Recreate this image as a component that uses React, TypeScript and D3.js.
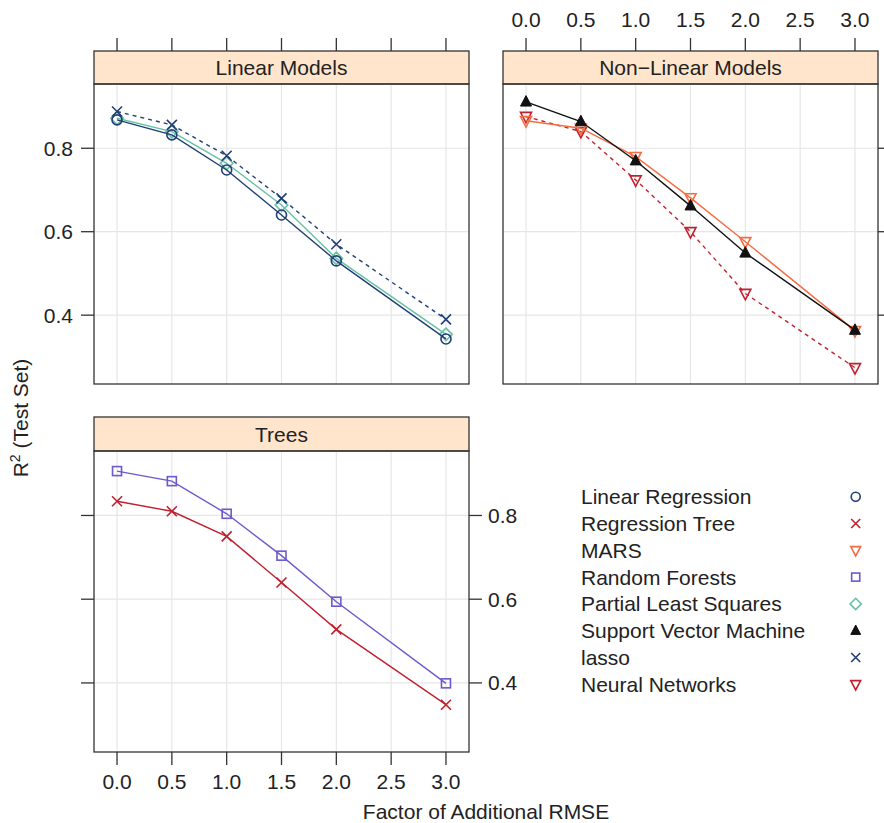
import React from "react";
import * as d3 from "d3";

const xValues = [0, 0.5, 1, 1.5, 2, 3];
const xTicks = [0, 0.5, 1, 1.5, 2, 2.5, 3];
const yTicks = [0.4, 0.6, 0.8];

const linearRegression = [0.868, 0.832, 0.748, 0.64, 0.53, 0.343];
const partialLeastSquares = [0.872, 0.84, 0.764, 0.664, 0.536, 0.354];
const lasso = [0.888, 0.856, 0.782, 0.68, 0.57, 0.39];
const supportVectorMachine = [0.911, 0.864, 0.77, 0.662, 0.549, 0.364];
const mars = [0.866, 0.848, 0.78, 0.681, 0.576, 0.363];
const neuralNetworks = [0.876, 0.84, 0.724, 0.6, 0.452, 0.274];
const randomForests = [0.906, 0.882, 0.804, 0.704, 0.594, 0.399];
const regressionTree = [0.834, 0.81, 0.75, 0.64, 0.528, 0.348];

const panelTitles = ["Linear Models", "Non\u2212Linear Models", "Trees"];
const legendNames = [
  "Linear Regression",
  "Regression Tree",
  "MARS",
  "Random Forests",
  "Partial Least Squares",
  "Support Vector Machine",
  "lasso",
  "Neural Networks",
];

const NAVY = "#213F75";
const RED = "#C0202F";
const ORANGE = "#F46D43";
const PURPLE = "#6A5ACD";
const TEAL = "#66C2A5";
const BLACK = "#111111";

type Sym = "circle" | "x" | "tridown" | "square" | "diamond" | "triup";

const seriesStyle: Record<string, { color: string; sym: Sym; dash?: string }> = {
  "Linear Regression": { color: NAVY, sym: "circle" },
  "Regression Tree": { color: RED, sym: "x" },
  MARS: { color: ORANGE, sym: "tridown" },
  "Random Forests": { color: PURPLE, sym: "square" },
  "Partial Least Squares": { color: TEAL, sym: "diamond" },
  "Support Vector Machine": { color: BLACK, sym: "triup" },
  lasso: { color: NAVY, sym: "x", dash: "4,4" },
  "Neural Networks": { color: RED, sym: "tridown", dash: "4,4" },
};

const panels = [
  {
    title: panelTitles[0],
    series: [
      { name: "Partial Least Squares", values: partialLeastSquares },
      { name: "Linear Regression", values: linearRegression },
      { name: "lasso", values: lasso },
    ],
  },
  {
    title: panelTitles[1],
    series: [
      { name: "Neural Networks", values: neuralNetworks },
      { name: "MARS", values: mars },
      { name: "Support Vector Machine", values: supportVectorMachine },
    ],
  },
  {
    title: panelTitles[2],
    series: [
      { name: "Regression Tree", values: regressionTree },
      { name: "Random Forests", values: randomForests },
    ],
  },
];

function Symbol({ sym, x, y, color, s = 5 }: { sym: Sym; x: number; y: number; color: string; s?: number }) {
  const sw = 1.6;
  switch (sym) {
    case "circle":
      return <circle cx={x} cy={y} r={s} fill="none" stroke={color} strokeWidth={sw} />;
    case "x":
      return (
        <path
          d={`M${x - s},${y - s}L${x + s},${y + s}M${x - s},${y + s}L${x + s},${y - s}`}
          stroke={color}
          strokeWidth={sw}
          fill="none"
        />
      );
    case "tridown": {
      const h = s * 1.1;
      return (
        <path
          d={`M${x - s * 1.1},${y - h * 0.75}L${x + s * 1.1},${y - h * 0.75}L${x},${y + h * 1.15}Z`}
          stroke={color}
          strokeWidth={sw}
          fill="none"
        />
      );
    }
    case "triup": {
      const h = s * 1.1;
      return (
        <path
          d={`M${x - s * 1.1},${y + h * 0.75}L${x + s * 1.1},${y + h * 0.75}L${x},${y - h * 1.15}Z`}
          stroke={color}
          strokeWidth={1}
          fill={color}
        />
      );
    }
    case "square":
      return <rect x={x - s * 0.9} y={y - s * 0.9} width={s * 1.8} height={s * 1.8} fill="none" stroke={color} strokeWidth={sw} />;
    case "diamond":
      return (
        <path
          d={`M${x},${y - s * 1.25}L${x + s * 1.25},${y}L${x},${y + s * 1.25}L${x - s * 1.25},${y}Z`}
          stroke={color}
          strokeWidth={sw}
          fill="none"
        />
      );
  }
  return null;
}

const FONT = "'Liberation Sans', Arial, Helvetica, sans-serif";
const FS = 21;
const BORDER = "#333333";
const GRID = "#E6E6E6";
const STRIP = "#FFE5CC";

export default function App() {
  const W = 884;
  const H = 823;
  const xDomain: [number, number] = [-0.21, 3.21];
  const yDomain: [number, number] = [0.235, 0.954];

  const layouts = [
    { left: 94, right: 469, stripTop: 51, stripBottom: 84, bottom: 384 },
    { left: 503, right: 878, stripTop: 51, stripBottom: 84, bottom: 384 },
    { left: 94, right: 469, stripTop: 417, stripBottom: 451, bottom: 752 },
  ];

  const tickFmt = d3.format(".1f");
  const tickLen = 13;

  return (
    <svg
      width={W}
      height={H}
      style={{ position: "absolute", left: 0, top: 0, background: "#fff" }}
      fontFamily={FONT}
    >
      <rect x={0} y={0} width={W} height={H} fill="#fff" />
      {panels.map((p, i) => {
        const L = layouts[i];
        const x = d3.scaleLinear().domain(xDomain).range([L.left, L.right]);
        const y = d3.scaleLinear().domain(yDomain).range([L.bottom, L.stripBottom]);
        const line = d3
          .line<number>()
          .x((_, j) => x(xValues[j]))
          .y((d) => y(d));
        return (
          <g key={i}>
            {xTicks.map((t) => (
              <line key={"gx" + t} x1={x(t)} x2={x(t)} y1={L.stripBottom} y2={L.bottom} stroke={GRID} strokeWidth={1.2} />
            ))}
            {yTicks.map((t) => (
              <line key={"gy" + t} x1={L.left} x2={L.right} y1={y(t)} y2={y(t)} stroke={GRID} strokeWidth={1.2} />
            ))}
            {p.series.map((s) => {
              const st = seriesStyle[s.name];
              return (
                <g key={s.name}>
                  <path d={line(s.values) || ""} fill="none" stroke={st.color} strokeWidth={1.4} strokeDasharray={st.dash} />
                  {s.values.map((v, j) => (
                    <Symbol key={j} sym={st.sym} x={x(xValues[j])} y={y(v)} color={st.color} />
                  ))}
                </g>
              );
            })}
            <rect
              x={L.left}
              y={L.stripTop}
              width={L.right - L.left}
              height={L.stripBottom - L.stripTop}
              fill={STRIP}
              stroke={BORDER}
              strokeWidth={1.3}
            />
            <text
              x={(L.left + L.right) / 2}
              y={(L.stripTop + L.stripBottom) / 2}
              dy="0.36em"
              textAnchor="middle"
              fontSize={FS}
              fill="#222"
            >
              {p.title}
            </text>
            <rect
              x={L.left}
              y={L.stripBottom}
              width={L.right - L.left}
              height={L.bottom - L.stripBottom}
              fill="none"
              stroke={BORDER}
              strokeWidth={1.3}
            />
            {i < 2 &&
              xTicks.map((t) => (
                <line key={"tt" + t} x1={x(t)} x2={x(t)} y1={L.stripTop} y2={L.stripTop - tickLen} stroke={BORDER} strokeWidth={1.3} />
              ))}
            {i === 1 &&
              xTicks.map((t) => (
                <text key={"tl" + t} x={x(t)} y={27} textAnchor="middle" fontSize={FS} fill="#222">
                  {tickFmt(t)}
                </text>
              ))}
            {i === 2 &&
              xTicks.map((t) => (
                <g key={"bt" + t}>
                  <line x1={x(t)} x2={x(t)} y1={L.bottom} y2={L.bottom + tickLen} stroke={BORDER} strokeWidth={1.3} />
                  <text x={x(t)} y={789} textAnchor="middle" fontSize={FS} fill="#222">
                    {tickFmt(t)}
                  </text>
                </g>
              ))}
            {(i === 0 || i === 2) &&
              yTicks.map((t) => (
                <line key={"lt" + t} x1={L.left} x2={L.left - tickLen} y1={y(t)} y2={y(t)} stroke={BORDER} strokeWidth={1.3} />
              ))}
            {i === 0 &&
              yTicks.map((t) => (
                <text key={"ll" + t} x={73} y={y(t)} dy="0.36em" textAnchor="end" fontSize={FS} fill="#222">
                  {tickFmt(t)}
                </text>
              ))}
            {(i === 1 || i === 2) &&
              yTicks.map((t) => (
                <line key={"rt" + t} x1={L.right} x2={L.right + tickLen} y1={y(t)} y2={y(t)} stroke={BORDER} strokeWidth={1.3} />
              ))}
            {i === 2 &&
              yTicks.map((t) => (
                <text key={"rl" + t} x={L.right + 19} y={y(t)} dy="0.36em" textAnchor="start" fontSize={FS} fill="#222">
                  {tickFmt(t)}
                </text>
              ))}
          </g>
        );
      })}

      <text x={486} y={819} textAnchor="middle" fontSize={FS} fill="#222">
        Factor of Additional RMSE
      </text>
      <text transform="translate(28,418) rotate(-90)" textAnchor="middle" fontSize={FS} fill="#222">
        <tspan>R</tspan>
        <tspan fontSize={14} dy={-8}>2</tspan>
        <tspan dy={8}> (Test Set)</tspan>
      </text>

      {legendNames.map((n, k) => {
        const cy = 496.7 + k * 26.8;
        const st = seriesStyle[n];
        return (
          <g key={n}>
            <text x={581} y={cy} dy="0.36em" fontSize={FS} fill="#222">
              {n}
            </text>
            <Symbol sym={st.sym} x={855.7} y={cy} color={st.color} s={4.5} />
          </g>
        );
      })}
    </svg>
  );
}
